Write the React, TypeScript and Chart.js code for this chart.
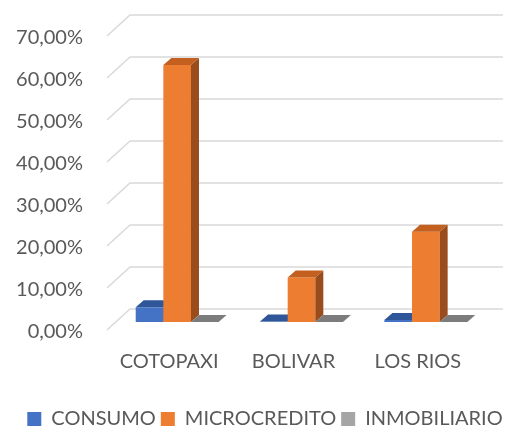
import React, { useEffect, useRef } from 'react';
import { Chart, registerables } from 'chart.js';

Chart.register(...registerables);

const categories = ['COTOPAXI', 'BOLIVAR', 'LOS RIOS'];
const seriesNames = ['CONSUMO', 'MICROCREDITO', 'INMOBILIARIO'];
const consumo = [0.035, 0.001, 0.005];
const microcredito = [0.612, 0.106, 0.215];
const inmobiliario = [0, 0, 0];
const yMin = 0;
const yMax = 0.7;
const yStep = 0.1;

const FRONT = ['#4472c4', '#ed7d31', '#a5a5a5'];
const TOP = ['#30569a', '#c4601f', '#7c7c7c'];
const SIDE = ['#2a4a86', '#9a4d1c', '#6a6a6a'];

const DEPTH_X = 8;
const DEPTH_Y = -7;
const FRONT_DX = -8;
const FRONT_DY = 8;
const BACK_DX = 15;
const BACK_DY = -13;
const LEGEND_SHIFT = 11;

const FONT = 'Lato, "Open Sans", sans-serif';
const TEXT = '#595959';

const fmtPct = (v: number) => (v * 100).toFixed(2).replace('.', ',') + '%';

const threeD = {
  id: 'threeD',
  afterLayout(chart: any) {
    const lg = chart.legend;
    if (lg) {
      lg.top += LEGEND_SHIFT;
      lg.bottom += LEGEND_SHIFT;
    }
  },
  beforeDatasetsDraw(chart: any) {
    const { ctx, chartArea, scales } = chart;
    const y = scales.y;
    ctx.save();
    ctx.strokeStyle = '#d9d9d9';
    ctx.lineWidth = 1.5;
    y.ticks.forEach((t: any) => {
      const py = y.getPixelForValue(t.value);
      ctx.beginPath();
      ctx.moveTo(chartArea.left + FRONT_DX, py + FRONT_DY);
      ctx.lineTo(chartArea.left + BACK_DX, py + BACK_DY);
      ctx.lineTo(chartArea.right + BACK_DX, py + BACK_DY);
      ctx.stroke();
    });
    ctx.restore();
  },
  beforeDatasetDraw() {
    return false;
  },
  afterDatasetsDraw(chart: any) {
    const { ctx } = chart;
    const n = chart.data.labels.length;
    ctx.save();
    for (let i = 0; i < n; i++) {
      for (let d = 0; d < chart.data.datasets.length; d++) {
        const el = chart.getDatasetMeta(d).data[i];
        if (!el) continue;
        const { x, y, base, width } = el.getProps(['x', 'y', 'base', 'width'], true);
        const l = x - width / 2;
        const r = x + width / 2;
        ctx.fillStyle = FRONT[d];
        ctx.fillRect(l, y, r - l, base - y);
        ctx.fillStyle = TOP[d];
        ctx.beginPath();
        ctx.moveTo(l, y);
        ctx.lineTo(r, y);
        ctx.lineTo(r + DEPTH_X, y + DEPTH_Y);
        ctx.lineTo(l + DEPTH_X, y + DEPTH_Y);
        ctx.closePath();
        ctx.fill();
        if (base - y > 0.5) {
          ctx.fillStyle = SIDE[d];
          ctx.beginPath();
          ctx.moveTo(r, y);
          ctx.lineTo(r + DEPTH_X, y + DEPTH_Y);
          ctx.lineTo(r + DEPTH_X, base + DEPTH_Y);
          ctx.lineTo(r, base);
          ctx.closePath();
          ctx.fill();
        }
      }
    }
    ctx.restore();
  },
};

export default function App() {
  const ref = useRef<HTMLCanvasElement>(null);
  useEffect(() => {
    if (!ref.current) return;
    const padLeft = 16;
    const chart = new Chart(ref.current, {
      type: 'bar',
      data: {
        labels: categories,
        datasets: [
          { label: seriesNames[0], data: consumo, backgroundColor: FRONT[0] },
          { label: seriesNames[1], data: microcredito, backgroundColor: FRONT[1] },
          { label: seriesNames[2], data: inmobiliario, backgroundColor: FRONT[2] },
        ],
      },
      options: {
        responsive: false,
        animation: false,
        devicePixelRatio: 1,
        layout: { padding: { top: 28, left: padLeft, right: 0, bottom: 0 } },
        datasets: { bar: { categoryPercentage: 0.667, barPercentage: 1 } },
        scales: {
          x: {
            grid: { display: false, drawTicks: false },
            border: { display: false },
            ticks: { font: { family: FONT, size: 20 }, color: TEXT, padding: 28, labelOffset: -8 },
            afterFit: (s: any) => { s.height = 71; },
          },
          y: {
            min: yMin,
            max: yMax,
            grid: { display: false, drawTicks: true, tickLength: 30, color: 'rgba(0,0,0,0)' },
            border: { display: false },
            ticks: {
              stepSize: yStep,
              font: { family: FONT, size: 20 },
              color: TEXT,
              padding: 2,
              labelOffset: 10,
              callback: (v: any) => fmtPct(Number(v)),
            },
            afterFit: (s: any) => { s.width = 115 - padLeft; },
          },
          yR: {
            position: 'right',
            display: true,
            grid: { display: false, drawTicks: false },
            border: { display: false },
            ticks: { display: false, padding: 0 },
            afterFit: (s: any) => { s.width = 26; },
          },
        },
        plugins: {
          legend: {
            position: 'bottom',
            labels: {
              boxWidth: 14,
              boxHeight: 14,
              padding: 5,
              color: TEXT,
              font: { family: FONT, size: 20 },
            },
          },
          tooltip: { enabled: false },
        },
      },
      plugins: [threeD],
    } as any);
    return () => chart.destroy();
  }, []);
  return (
    <div style={{ position: 'fixed', left: 0, top: 0, width: 514, height: 428, background: '#fff' }}>
      <canvas ref={ref} width={514} height={428} />
    </div>
  );
}
